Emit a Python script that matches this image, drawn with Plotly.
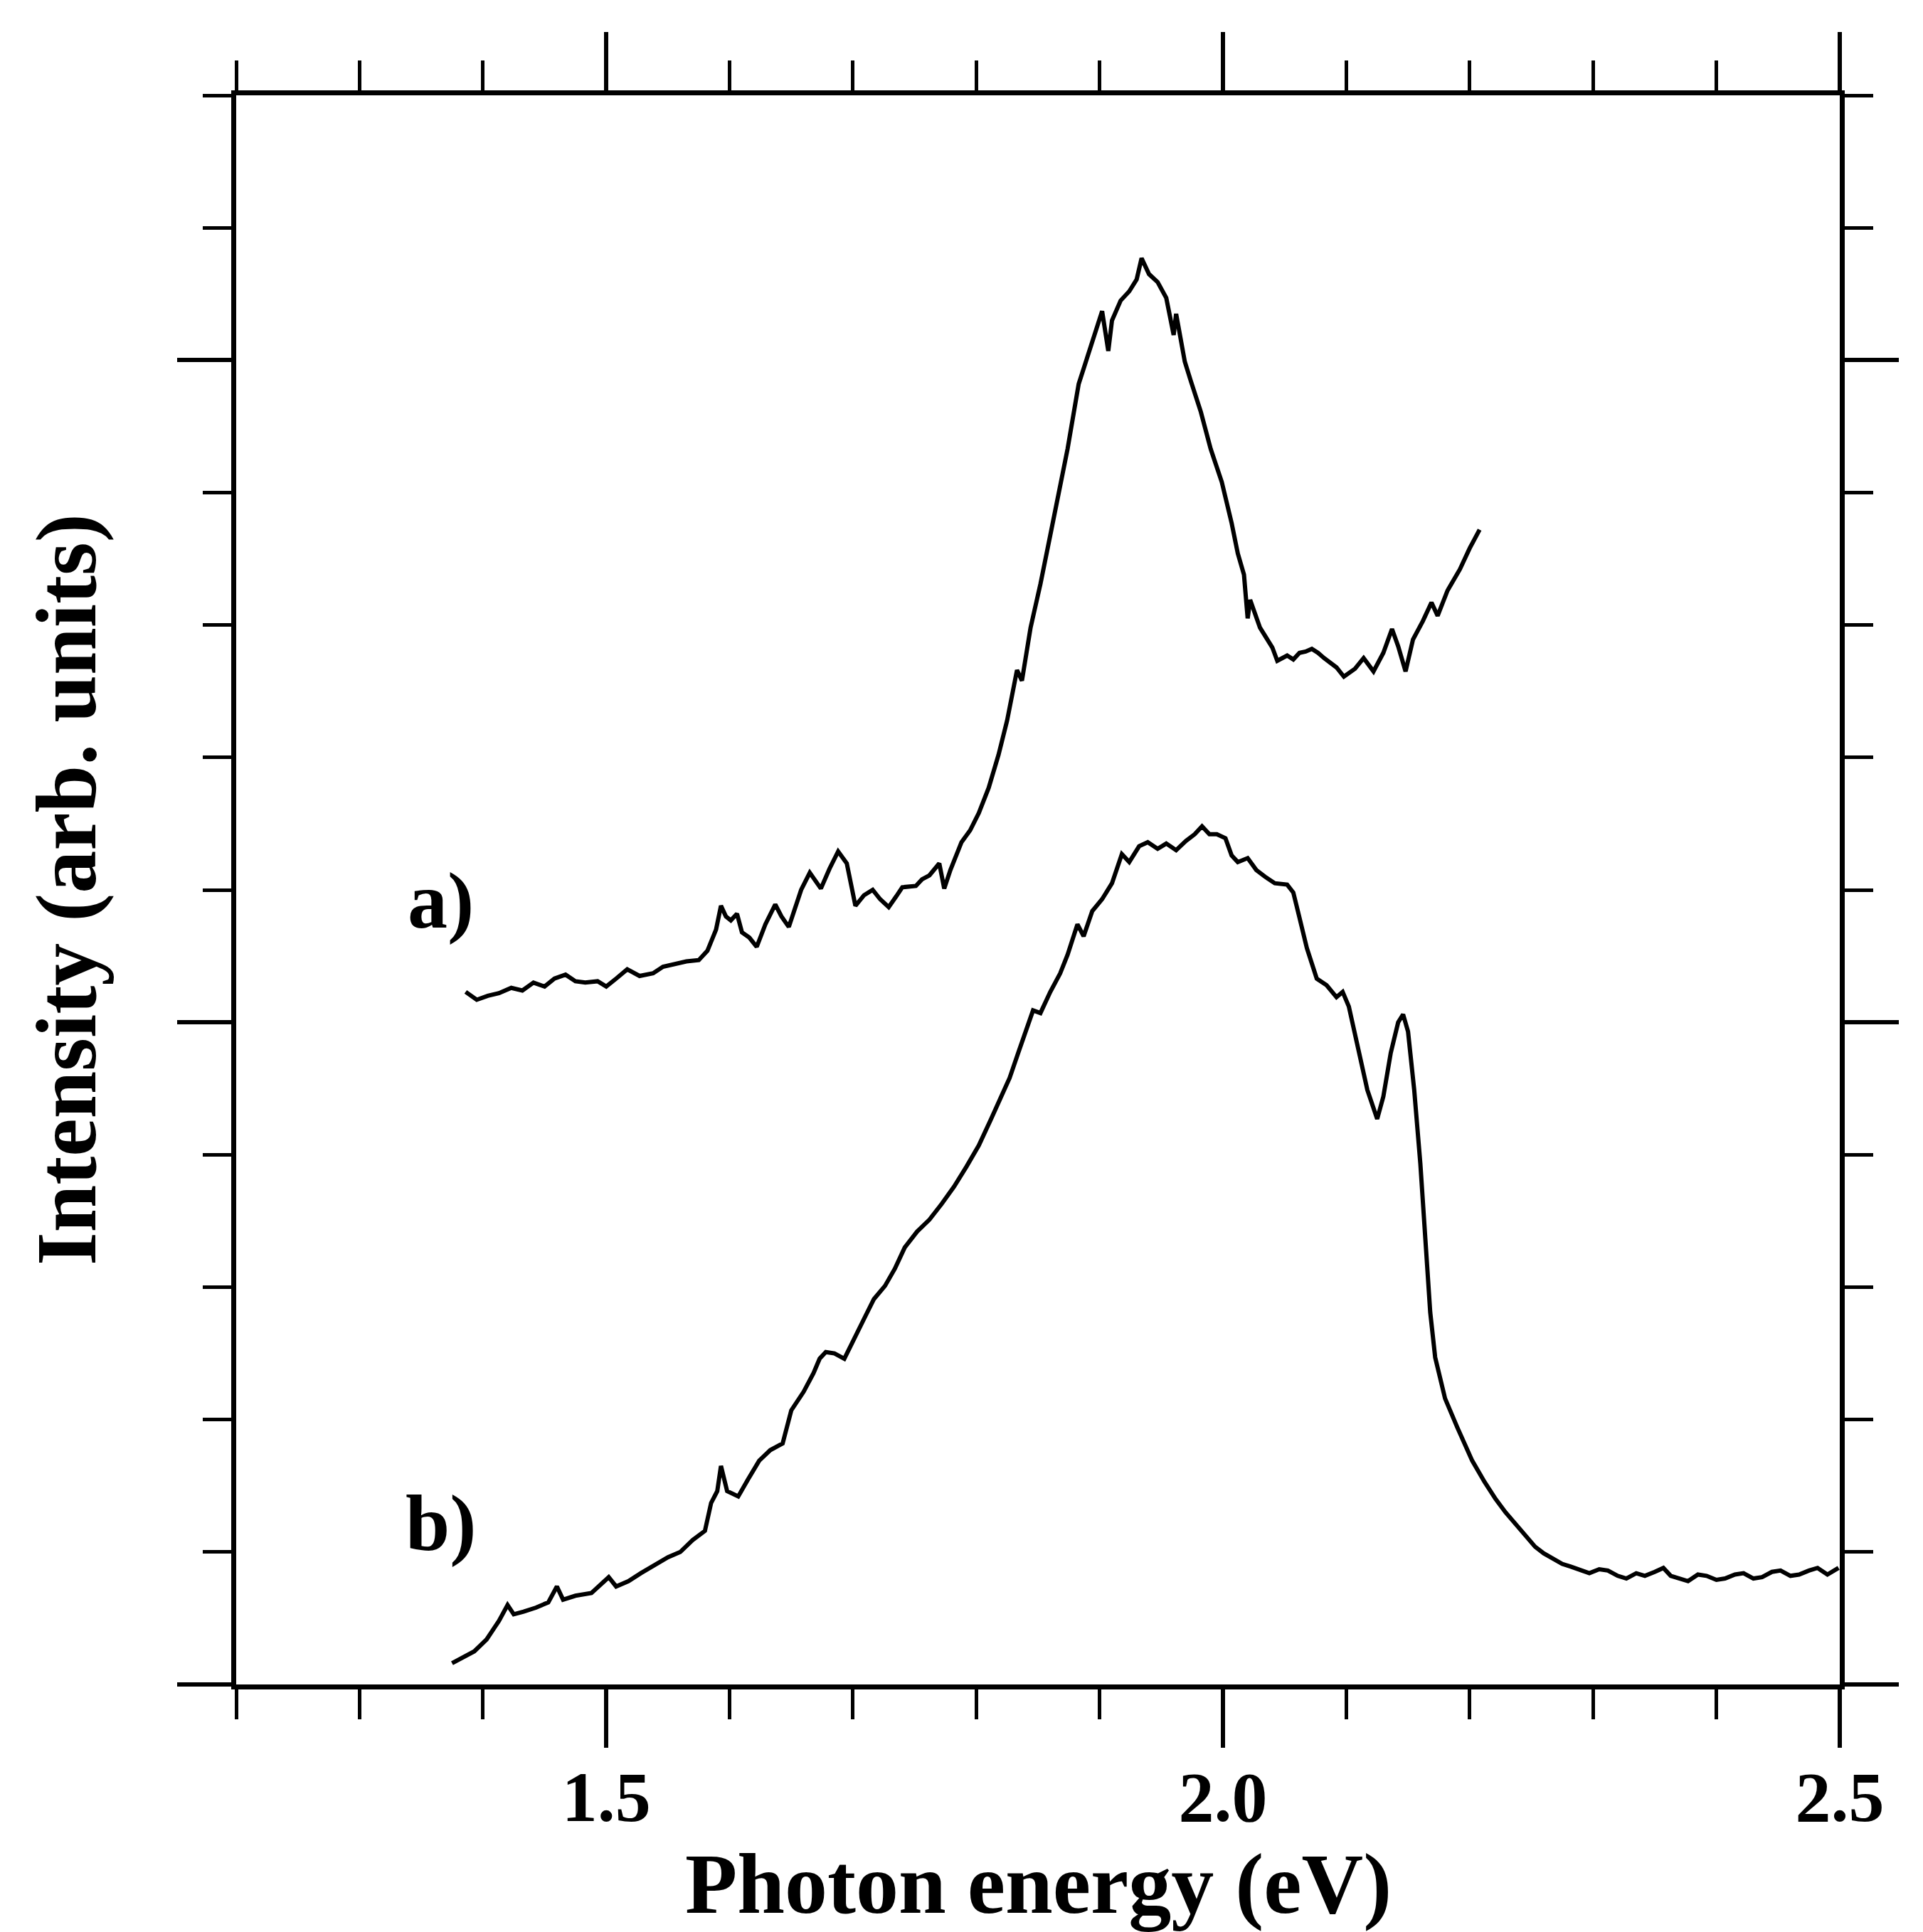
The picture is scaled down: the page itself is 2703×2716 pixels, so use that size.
import plotly.graph_objects as go

# Spectrum a) : photon energy (eV) and intensity (arb. units)
energy_a = [1.386, 1.395, 1.404, 1.413, 1.423, 1.432, 1.441, 1.450, 1.458, 1.467, 1.475, 1.483,
            1.493, 1.500, 1.508, 1.517, 1.527, 1.538, 1.546, 1.554, 1.565, 1.575, 1.582, 1.589,
            1.593, 1.597, 1.601, 1.606, 1.610, 1.616, 1.622, 1.629, 1.637, 1.642, 1.648, 1.653,
            1.658, 1.665, 1.670, 1.674, 1.681, 1.688, 1.695, 1.702, 1.709, 1.716, 1.722, 1.729,
            1.735, 1.740, 1.751, 1.756, 1.762, 1.770, 1.774, 1.779, 1.788, 1.795, 1.802, 1.810,
            1.818, 1.825, 1.833, 1.837, 1.844, 1.852, 1.860, 1.867, 1.874, 1.883, 1.890, 1.897,
            1.902, 1.907, 1.910, 1.917, 1.924, 1.930, 1.934, 1.940, 1.947, 1.954, 1.960, 1.962,
            1.969, 1.974, 1.982, 1.990, 1.999, 2.007, 2.012, 2.017, 2.020, 2.022, 2.030, 2.040,
            2.044, 2.052, 2.057, 2.062, 2.067, 2.072, 2.077, 2.082, 2.092, 2.098, 2.107, 2.114,
            2.122, 2.130, 2.137, 2.142, 2.148, 2.154, 2.162, 2.169, 2.174, 2.182, 2.192, 2.200,
            2.208]
intensity_a = [5.23, 5.17, 5.20, 5.22, 5.26, 5.24, 5.30, 5.27, 5.33, 5.36, 5.31, 5.30,
               5.31, 5.27, 5.33, 5.40, 5.35, 5.37, 5.42, 5.44, 5.46, 5.47, 5.54, 5.70,
               5.88, 5.80, 5.77, 5.82, 5.68, 5.64, 5.57, 5.74, 5.89, 5.80, 5.72, 5.86,
               6.00, 6.13, 6.06, 6.01, 6.16, 6.29, 6.20, 5.88, 5.96, 6.00, 5.93, 5.87,
               5.95, 6.02, 6.03, 6.08, 6.11, 6.20, 6.01, 6.15, 6.36, 6.45, 6.58, 6.77,
               7.02, 7.28, 7.66, 7.58, 7.98, 8.31, 8.68, 9.00, 9.33, 9.82, 10.03, 10.24,
               10.37, 10.07, 10.30, 10.45, 10.52, 10.61, 10.77, 10.65, 10.59, 10.47, 10.19, 10.35,
               9.99, 9.84, 9.61, 9.33, 9.08, 8.77, 8.54, 8.38, 8.05, 8.19, 7.98, 7.83,
               7.73, 7.77, 7.74, 7.79, 7.80, 7.82, 7.79, 7.75, 7.68, 7.61, 7.67, 7.75,
               7.65, 7.79, 7.97, 7.84, 7.65, 7.89, 8.03, 8.17, 8.07, 8.26, 8.42, 8.58,
               8.72]

# Spectrum b)
energy_b = [1.375, 1.383, 1.393, 1.403, 1.413, 1.420, 1.425, 1.433, 1.443, 1.453, 1.460, 1.465,
            1.475, 1.488, 1.502, 1.508, 1.518, 1.528, 1.537, 1.550, 1.560, 1.570, 1.580, 1.585,
            1.590, 1.593, 1.598, 1.607, 1.615, 1.624, 1.633, 1.643, 1.650, 1.660, 1.668, 1.673,
            1.678, 1.685, 1.693, 1.703, 1.710, 1.717, 1.726, 1.734, 1.742, 1.752, 1.762, 1.772,
            1.782, 1.792, 1.802, 1.812, 1.820, 1.827, 1.834, 1.846, 1.852, 1.860, 1.868, 1.874,
            1.882, 1.887, 1.894, 1.902, 1.910, 1.918, 1.924, 1.932, 1.939, 1.947, 1.954, 1.962,
            1.970, 1.977, 1.983, 1.989, 1.995, 2.002, 2.007, 2.012, 2.020, 2.027, 2.034, 2.042,
            2.052, 2.057, 2.062, 2.068, 2.076, 2.084, 2.092, 2.097, 2.102, 2.107, 2.112, 2.117,
            2.125, 2.130, 2.136, 2.142, 2.146, 2.150, 2.155, 2.160, 2.164, 2.168, 2.172, 2.180,
            2.190, 2.202, 2.212, 2.221, 2.229, 2.237, 2.245, 2.253, 2.260, 2.267, 2.275, 2.282,
            2.290, 2.297, 2.305, 2.312, 2.320, 2.327, 2.335, 2.342, 2.350, 2.357, 2.363, 2.370,
            2.377, 2.385, 2.392, 2.400, 2.407, 2.415, 2.422, 2.430, 2.437, 2.445, 2.452, 2.460,
            2.467, 2.475, 2.482, 2.490, 2.499]
intensity_b = [0.16, 0.20, 0.25, 0.34, 0.48, 0.60, 0.53, 0.55, 0.58, 0.62, 0.74, 0.64,
               0.67, 0.69, 0.81, 0.74, 0.78, 0.84, 0.89, 0.96, 1.00, 1.09, 1.16, 1.37,
               1.46, 1.65, 1.46, 1.42, 1.55, 1.69, 1.77, 1.82, 2.07, 2.21, 2.35, 2.46,
               2.51, 2.50, 2.46, 2.64, 2.78, 2.91, 3.01, 3.14, 3.30, 3.42, 3.51, 3.63,
               3.76, 3.91, 4.07, 4.27, 4.44, 4.58, 4.77, 5.09, 5.07, 5.23, 5.37, 5.51,
               5.74, 5.65, 5.84, 5.93, 6.05, 6.27, 6.21, 6.33, 6.36, 6.31, 6.35, 6.30,
               6.37, 6.42, 6.48, 6.42, 6.42, 6.39, 6.26, 6.21, 6.24, 6.15, 6.10, 6.05,
               6.04, 5.98, 5.79, 5.56, 5.33, 5.28, 5.19, 5.23, 5.12, 4.91, 4.72, 4.49,
               4.27, 4.44, 4.77, 5.00, 5.06, 4.93, 4.49, 3.93, 3.37, 2.81, 2.47, 2.16,
               1.94, 1.69, 1.53, 1.40, 1.30, 1.21, 1.12, 1.04, 0.99, 0.95, 0.91, 0.89,
               0.86, 0.84, 0.87, 0.86, 0.82, 0.80, 0.84, 0.82, 0.85, 0.88, 0.82, 0.80,
               0.78, 0.83, 0.82, 0.79, 0.80, 0.83, 0.84, 0.80, 0.81, 0.85, 0.86, 0.82,
               0.83, 0.86, 0.88, 0.83, 0.88]

x_tick_labels = ["1.5", "2.0", "2.5"]
x_tick_values = [1.5, 2.0, 2.5]
curve_labels = ["a)", "b)"]
label_x = [1.366, 1.366]
label_y = [5.92, 1.22]

FONT = "Liberation Serif, Times New Roman, serif"

fig = go.Figure()
fig.add_trace(go.Scatter(x=energy_a, y=intensity_a, mode="lines",
                         line=dict(color="black", width=6), showlegend=False))
fig.add_trace(go.Scatter(x=energy_b, y=intensity_b, mode="lines",
                         line=dict(color="black", width=6), showlegend=False))

for t, lx, ly in zip(curve_labels, label_x, label_y):
    fig.add_annotation(x=lx, y=ly, xref="x", yref="y", text="<b>%s</b>" % t,
                       showarrow=False, font=dict(family=FONT, size=112, color="black"),
                       xanchor="center", yanchor="middle")

fig.add_annotation(x=0.5, y=-0.126, xref="paper", yref="paper",
                   text="<b>Photon energy (eV)</b>", showarrow=False,
                   font=dict(family=FONT, size=120, color="black"),
                   xanchor="center", yanchor="middle")
fig.add_annotation(x=-0.106, y=0.5, xref="paper", yref="paper",
                   text="<b>Intensity (arb. units)</b>", showarrow=False, textangle=-90,
                   font=dict(family=FONT, size=120, color="black"),
                   xanchor="center", yanchor="middle")

fig.update_layout(
    width=2703, height=2716,
    margin=dict(l=324, r=125, t=126, b=356),
    paper_bgcolor="white", plot_bgcolor="white",
    font=dict(family=FONT, color="black"),
    xaxis=dict(range=[1.2, 2.5], tickmode="array", tickvals=x_tick_values,
               ticktext=["<b>%s</b>" % s for s in x_tick_labels],
               ticks="outside", ticklen=82, tickwidth=6, tickcolor="black",
               showline=True, linewidth=7, linecolor="black", mirror="ticks",
               showgrid=False, zeroline=False,
               tickfont=dict(family=FONT, size=100, color="black"),
               ticklabelstandoff=-17,
               minor=dict(tick0=1.2, dtick=0.1, ticks="outside", ticklen=42,
                          tickwidth=5, tickcolor="black", showgrid=False)),
    yaxis=dict(range=[0, 12], tick0=0, dtick=5,
               ticks="outside", ticklen=76, tickwidth=6, tickcolor="black",
               showline=True, linewidth=7, linecolor="black", mirror="ticks",
               showgrid=False, zeroline=False, showticklabels=False,
               minor=dict(tick0=0, dtick=1, ticks="outside", ticklen=40,
                          tickwidth=5, tickcolor="black", showgrid=False)),
)

fig.write_html("out.html")
